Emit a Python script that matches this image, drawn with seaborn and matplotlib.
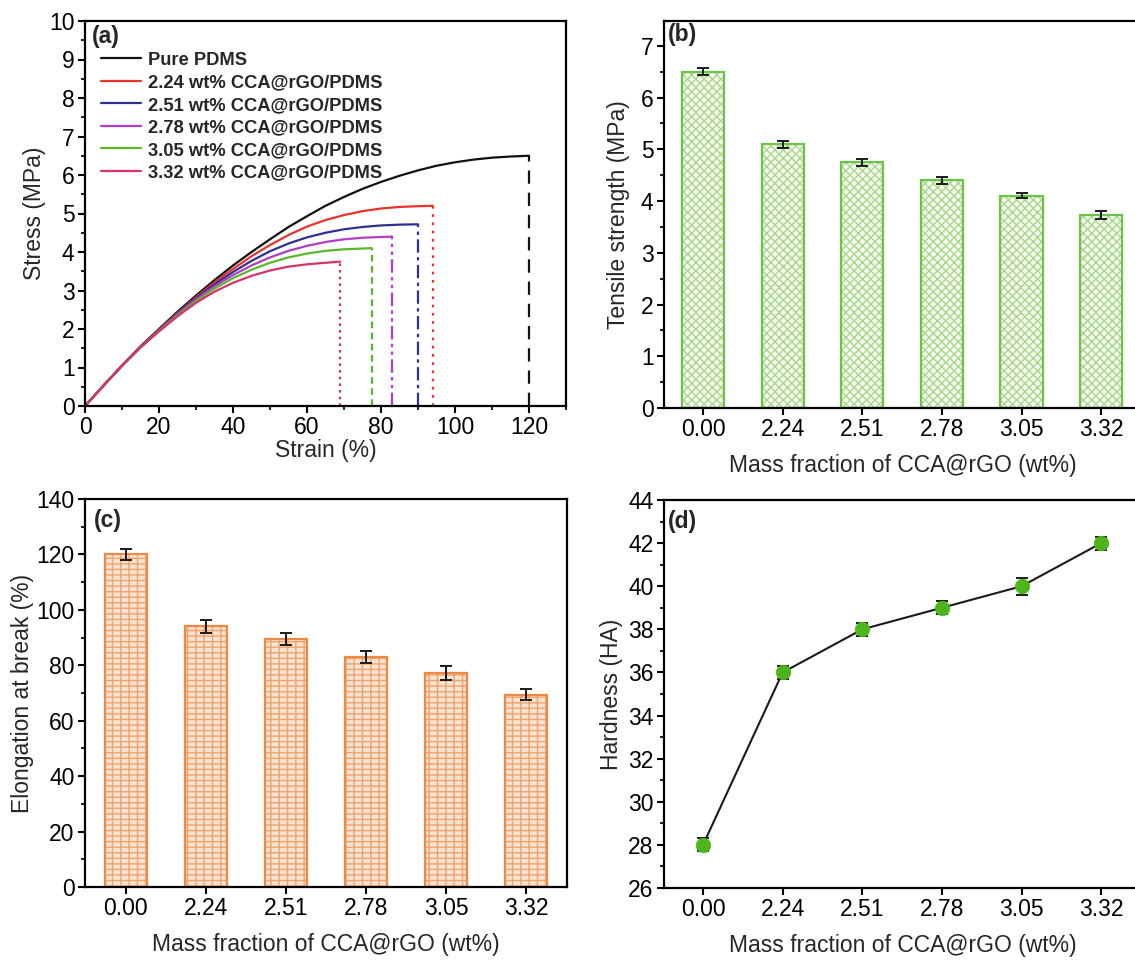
import numpy as np
import pandas as pd
import matplotlib
matplotlib.use("Agg")
import matplotlib.pyplot as plt
import seaborn as sns
from matplotlib.ticker import MultipleLocator

# ---------------- data ----------------
series_names = ["Pure PDMS", "2.24 wt% CCA@rGO/PDMS", "2.51 wt% CCA@rGO/PDMS",
                "2.78 wt% CCA@rGO/PDMS", "3.05 wt% CCA@rGO/PDMS", "3.32 wt% CCA@rGO/PDMS"]
strain_pure = [0, 5, 10, 15, 20, 25, 30, 35, 40, 45, 50, 55, 60, 65, 70, 75, 80, 85, 90,
               95, 100, 105, 110, 115, 120]
stress_pure = [0, 0.53, 1.05, 1.55, 2.0, 2.45, 2.87, 3.27, 3.65, 4.0, 4.33, 4.65, 4.93,
               5.2, 5.43, 5.64, 5.82, 5.98, 6.12, 6.24, 6.33, 6.4, 6.45, 6.48, 6.5]
strain_224 = [0, 5, 10, 15, 20, 25, 30, 35, 40, 45, 50, 55, 60, 65, 70, 75, 80, 85, 90, 94]
stress_224 = [0, 0.53, 1.05, 1.54, 1.98, 2.42, 2.83, 3.21, 3.56, 3.89, 4.18, 4.44, 4.66,
              4.83, 4.96, 5.06, 5.13, 5.17, 5.19, 5.2]
strain_251 = [0, 5, 10, 15, 20, 25, 30, 35, 40, 45, 50, 55, 60, 65, 70, 75, 80, 85, 90]
stress_251 = [0, 0.53, 1.05, 1.54, 1.97, 2.4, 2.8, 3.16, 3.48, 3.77, 4.02, 4.22, 4.38,
              4.5, 4.59, 4.65, 4.69, 4.71, 4.72]
strain_278 = [0, 5, 10, 15, 20, 25, 30, 35, 40, 45, 50, 55, 60, 65, 70, 75, 80, 83]
stress_278 = [0, 0.53, 1.05, 1.53, 1.96, 2.38, 2.77, 3.11, 3.4, 3.65, 3.86, 4.03, 4.16,
              4.26, 4.33, 4.37, 4.39, 4.4]
strain_305 = [0, 5, 10, 15, 20, 25, 30, 35, 40, 45, 50, 55, 60, 65, 70, 75, 77.5]
stress_305 = [0, 0.53, 1.04, 1.52, 1.95, 2.36, 2.73, 3.05, 3.32, 3.54, 3.72, 3.86, 3.96,
              4.03, 4.07, 4.09, 4.1]
strain_332 = [0, 5, 10, 15, 20, 25, 30, 35, 40, 45, 50, 55, 60, 65, 69]
stress_332 = [0, 0.53, 1.04, 1.52, 1.94, 2.33, 2.68, 2.97, 3.2, 3.38, 3.52, 3.62, 3.68,
              3.72, 3.75]

mass_fraction = ["0.00", "2.24", "2.51", "2.78", "3.05", "3.32"]
tensile_strength = [6.5, 5.1, 4.75, 4.4, 4.1, 3.73]
tensile_err = [0.07, 0.07, 0.07, 0.07, 0.05, 0.07]
elongation = [120, 94, 89.5, 83, 77.3, 69.3]
elongation_err = [2.0, 2.5, 2.0, 2.2, 2.5, 2.0]
hardness = [28, 36, 38, 39, 40, 42]
hardness_err = [0.3, 0.3, 0.3, 0.3, 0.4, 0.3]

curve_colors = ["#111111", "#e8322b", "#2e3192", "#b03cc8", "#58b82a", "#d6336c"]
drop_styles = [(0, (6, 4)), (0, (1.2, 2.5)), (0, (6, 2, 1.5, 2)),
               (0, (6, 2, 1.5, 2, 1.5, 2)), (0, (3, 2)), (0, (1.2, 1.8))]

# ---------------- style ----------------
sns.set_theme(style="ticks")
plt.rcParams["font.family"] = ["Liberation Sans", "DejaVu Sans"]
plt.rcParams["axes.linewidth"] = 1.6
plt.rcParams["hatch.linewidth"] = 1.0
FS = 16.5

fig = plt.figure(figsize=(11.35, 9.61), dpi=100)
W, H = 1135.0, 961.0

def add_ax(l, r, t, b):
    return fig.add_axes([l / W, 1 - b / H, (r - l) / W, (b - t) / H])

def style_ax(ax):
    for s in ax.spines.values():
        s.set_linewidth(1.6)
        s.set_color("black")
    ax.tick_params(axis="both", which="major", direction="out", length=5, width=1.5,
                   labelsize=FS, colors="black", pad=2.5)
    ax.tick_params(axis="both", which="minor", direction="out", length=3, width=1.5)

# ---------------- (a) ----------------
ax = add_ax(85, 566, 21, 406)
strains = [strain_pure, strain_224, strain_251, strain_278, strain_305, strain_332]
stresses = [stress_pure, stress_224, stress_251, stress_278, stress_305, stress_332]
frames = []
for name, xs, ys in zip(series_names, strains, stresses):
    frames.append(pd.DataFrame({"strain": xs, "stress": ys, "sample": name}))
df_a = pd.concat(frames, ignore_index=True)
sns.lineplot(data=df_a, x="strain", y="stress", hue="sample", hue_order=series_names,
             palette=curve_colors, sort=False, estimator=None, linewidth=1.6, ax=ax)
for xs, ys, c, ls in zip(strains, stresses, curve_colors, drop_styles):
    ax.vlines(xs[-1], 0, ys[-1], colors=c, linestyles=[ls], linewidth=1.6)
ax.set_xlim(0, 130)
ax.set_ylim(0, 10)
ax.xaxis.set_major_locator(MultipleLocator(20))
ax.xaxis.set_minor_locator(MultipleLocator(10))
ax.yaxis.set_major_locator(MultipleLocator(1))
ax.yaxis.set_minor_locator(MultipleLocator(0.5))
ax.set_xlabel("Strain (%)", fontsize=FS, labelpad=0)
ax.set_ylabel("Stress (MPa)", fontsize=FS, labelpad=2)
style_ax(ax)
leg = ax.legend(loc="upper left", bbox_to_anchor=(0.033, 0.92), frameon=False,
                prop={"weight": "bold", "size": 13.2}, handlelength=2.2,
                handletextpad=0.35, labelspacing=0.3, borderpad=0, borderaxespad=0)
for h in leg.get_lines():
    h.set_linewidth(1.6)
ax.text(0.015, 0.99, "(a)", transform=ax.transAxes, fontsize=FS, fontweight="bold",
        va="top", ha="left")

# ---------------- (b) ----------------
ax = add_ax(664, 1141, 21, 408)
df_b = pd.DataFrame({"mass": mass_fraction, "strength": tensile_strength})
sns.barplot(data=df_b, x="mass", y="strength", order=mass_fraction, width=0.53,
            color="#f6fcef", edgecolor="#a6d98a", linewidth=0, hatch="xxxx",
            errorbar=None, ax=ax, zorder=2)
sns.barplot(data=df_b, x="mass", y="strength", order=mass_fraction, width=0.53,
            fill=False, edgecolor="#6cc24a", linewidth=1.6,
            errorbar=None, ax=ax, zorder=2.5)
ax.errorbar(np.arange(len(mass_fraction)), tensile_strength, yerr=tensile_err,
            fmt="none", ecolor="#1a1a1a", elinewidth=1.4, capsize=4, capthick=1.4, zorder=3)
ax.set_xlim(-0.49, 5.5)
ax.set_ylim(0, 7.48)
ax.yaxis.set_major_locator(MultipleLocator(1))
ax.yaxis.set_minor_locator(MultipleLocator(0.5))
ax.set_xlabel("Mass fraction of CCA@rGO (wt%)", fontsize=FS, labelpad=9)
ax.set_ylabel("Tensile strength (MPa)", fontsize=FS, labelpad=8)
style_ax(ax)
ax.text(0.008, 0.995, "(b)", transform=ax.transAxes, fontsize=FS, fontweight="bold",
        va="top", ha="left")

# ---------------- (c) ----------------
ax = add_ax(85, 567, 499, 887)
df_c = pd.DataFrame({"mass": mass_fraction, "elong": elongation})
sns.barplot(data=df_c, x="mass", y="elong", order=mass_fraction, width=0.53,
            color="#fbe3cf", edgecolor="#f0a36c", linewidth=0, hatch="---||",
            errorbar=None, ax=ax, zorder=2)
sns.barplot(data=df_c, x="mass", y="elong", order=mass_fraction, width=0.53,
            fill=False, edgecolor="#ec8a44", linewidth=1.6,
            errorbar=None, ax=ax, zorder=2.5)
ax.errorbar(np.arange(len(mass_fraction)), elongation, yerr=elongation_err,
            fmt="none", ecolor="#1a1a1a", elinewidth=1.4, capsize=4, capthick=1.4, zorder=3)
ax.set_xlim(-0.51, 5.51)
ax.set_ylim(0, 140)
ax.yaxis.set_major_locator(MultipleLocator(20))
ax.yaxis.set_minor_locator(MultipleLocator(10))
ax.set_xlabel("Mass fraction of CCA@rGO (wt%)", fontsize=FS, labelpad=9)
ax.set_ylabel("Elongation at break (%)", fontsize=FS, labelpad=2)
style_ax(ax)
ax.text(0.018, 0.975, "(c)", transform=ax.transAxes, fontsize=FS, fontweight="bold",
        va="top", ha="left")

# ---------------- (d) ----------------
ax = add_ax(664, 1141, 500, 888)
pos = np.arange(len(mass_fraction))
sns.lineplot(x=pos, y=hardness, color="#1a1a1a", linewidth=1.5, ax=ax, zorder=2)
ax.errorbar(pos, hardness, yerr=hardness_err, fmt="none", ecolor="#1a1a1a",
            elinewidth=1.4, capsize=4, capthick=1.4, zorder=3)
sns.scatterplot(x=pos, y=hardness, color="#4db51c", s=110, edgecolor="#4db51c",
                linewidth=0.5, ax=ax, zorder=4)
ax.set_xticks(pos)
ax.set_xticklabels(mass_fraction)
ax.set_xlim(-0.49, 5.5)
ax.set_ylim(26, 44)
ax.yaxis.set_major_locator(MultipleLocator(2))
ax.yaxis.set_minor_locator(MultipleLocator(1))
ax.set_xlabel("Mass fraction of CCA@rGO (wt%)", fontsize=FS, labelpad=9)
ax.set_ylabel("Hardness (HA)", fontsize=FS, labelpad=4)
style_ax(ax)
ax.text(0.008, 0.975, "(d)", transform=ax.transAxes, fontsize=FS, fontweight="bold",
        va="top", ha="left")

fig.savefig("out.png", dpi=100)
